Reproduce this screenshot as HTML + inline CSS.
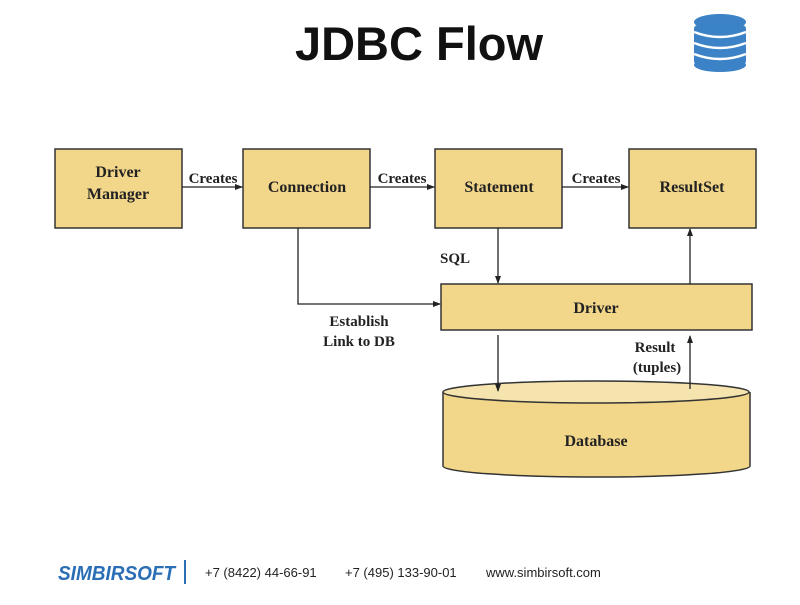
<!DOCTYPE html>
<html><head><meta charset="utf-8"><style>
body{margin:0;background:#fff;width:800px;height:600px;overflow:hidden}
</style></head><body>
<svg width="800" height="600" xmlns="http://www.w3.org/2000/svg">
<defs><marker id="a" markerWidth="8" markerHeight="8" refX="7" refY="4" orient="auto" markerUnits="userSpaceOnUse"><path d="M0,1 L8,4 L0,7 Z" fill="#222"/></marker></defs>
<text x="419" y="60" text-anchor="middle" font-family="Liberation Sans" font-weight="bold" font-size="47" fill="#111">JDBC Flow</text>
<g fill="#3b83c6">
<rect x="694" y="25" width="52" height="40" rx="4"/>
<ellipse cx="720" cy="22" rx="26" ry="8"/>
<ellipse cx="720" cy="65" rx="26" ry="7"/>
</g>
<g stroke="#fff" stroke-width="2.5" fill="none">
<path d="M694,32 Q720,42 746,32"/><path d="M694,43 Q720,53 746,43"/><path d="M694,54 Q720,64 746,54"/>
</g>
<g fill="#f2d68a" stroke="#333" stroke-width="1.5">
<rect x="55" y="149" width="127" height="79"/>
<rect x="243" y="149" width="127" height="79"/>
<rect x="435" y="149" width="127" height="79"/>
<rect x="629" y="149" width="127" height="79"/>
<rect x="441" y="284" width="311" height="46"/>
<path d="M443,392 L443,466 A153,11 0 0 0 750,466 L750,392"/>
<ellipse cx="596" cy="392" rx="153" ry="11" fill="#f6e4ae"/>
</g>
<g font-family="Liberation Serif" font-weight="bold" font-size="16" fill="#222" text-anchor="middle">
<text x="118" y="177">Driver</text><text x="118" y="199">Manager</text>
<text x="307" y="192">Connection</text>
<text x="499" y="192">Statement</text>
<text x="692" y="192">ResultSet</text>
<text x="596" y="313">Driver</text>
<text x="596" y="446">Database</text>
<text x="213" y="183" font-size="15">Creates</text>
<text x="402" y="183" font-size="15">Creates</text>
<text x="596" y="183" font-size="15">Creates</text>
<text x="455" y="263" font-size="15">SQL</text>
<text x="359" y="326" font-size="15">Establish</text>
<text x="359" y="346" font-size="15">Link to DB</text>
<text x="655" y="352" font-size="15">Result</text>
<text x="657" y="372" font-size="15">(tuples)</text>
</g>
<g stroke="#222" stroke-width="1.3" fill="none" marker-end="url(#a)">
<line x1="182" y1="187" x2="242" y2="187"/>
<line x1="370" y1="187" x2="434" y2="187"/>
<line x1="562" y1="187" x2="628" y2="187"/>
<line x1="498" y1="228" x2="498" y2="283"/>
<line x1="690" y1="284" x2="690" y2="229"/>
<polyline points="298,228 298,304 440,304"/>
<line x1="498" y1="335" x2="498" y2="391"/>
<line x1="690" y1="389" x2="690" y2="336"/>
</g>
<text x="58" y="580" font-family="Liberation Sans" font-weight="bold" font-style="italic" font-size="20" fill="#2a6fb5" transform="translate(58 0) scale(0.95 1) translate(-58 0)">SIMBIRSOFT</text>
<line x1="185" y1="560" x2="185" y2="584" stroke="#2a6fb5" stroke-width="2"/>
<g font-family="Liberation Sans" font-size="13" fill="#222">
<text x="205" y="577">+7 (8422) 44-66-91</text>
<text x="345" y="577">+7 (495) 133-90-01</text>
<text x="486" y="577">www.simbirsoft.com</text>
</g>
</svg>
</body></html>
